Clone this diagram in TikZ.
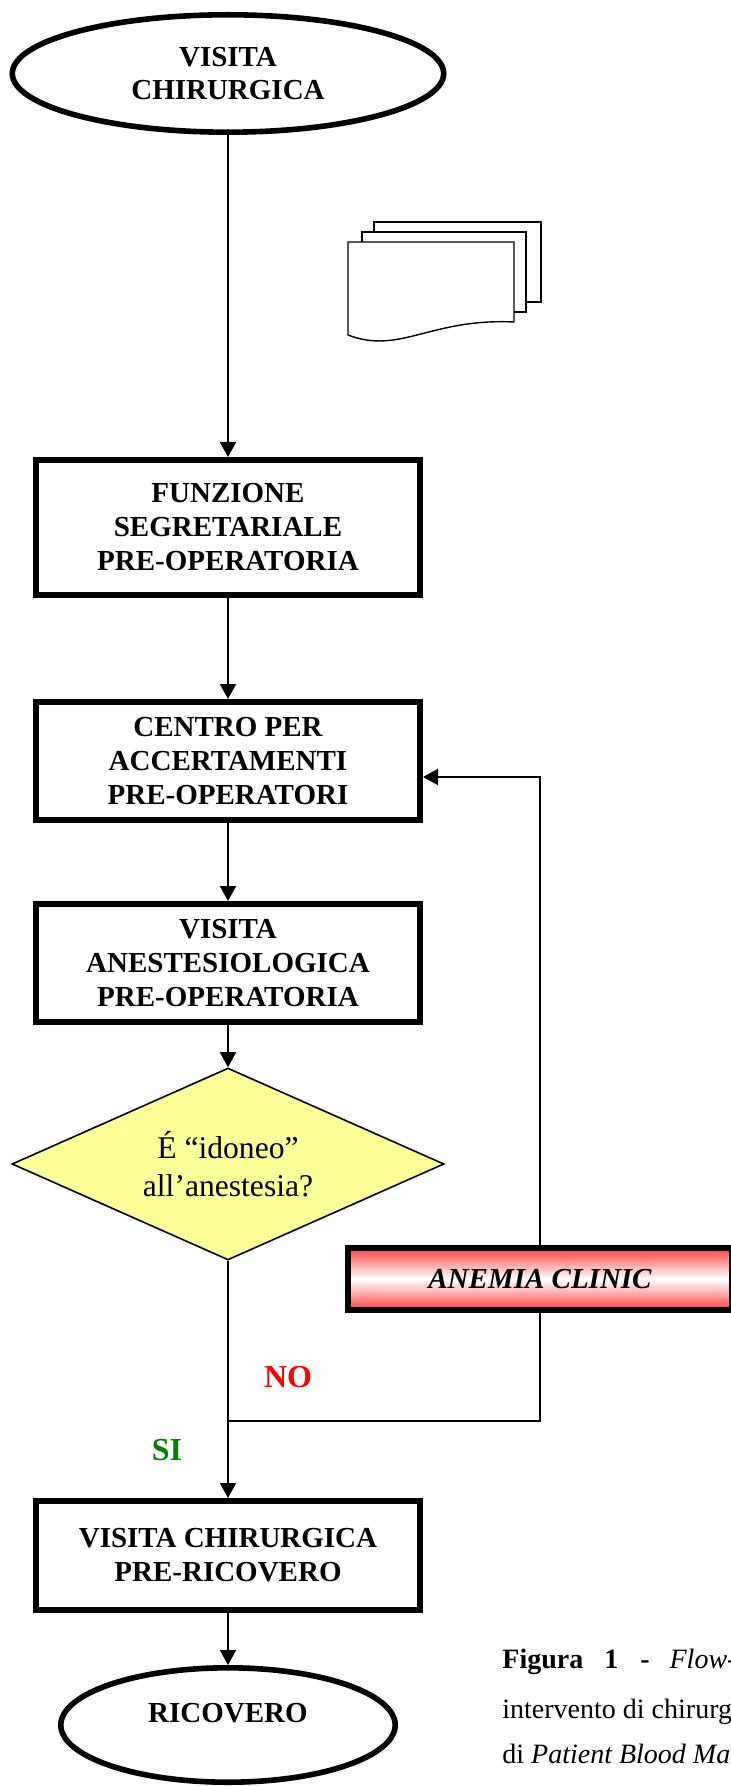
\documentclass[tikz,border=0pt]{standalone}
\usepackage{fontspec}
\setmainfont{Liberation Serif}
\usetikzlibrary{shapes.geometric,arrows.meta}
\definecolor{idoneoyellow}{RGB}{255,255,153}
\definecolor{sigreen}{RGB}{0,128,0}
\definecolor{clinicred}{RGB}{255,64,64}

\begin{document}
\begin{tikzpicture}[x=0.5pt,y=0.5pt,yscale=-1,
    oval/.style={draw,ellipse,line width=2.8pt,inner sep=0pt,align=center,font=\fontsize{14.5}{16.5}\selectfont\bfseries},
    box/.style={draw,rectangle,line width=2.8pt,minimum width=192.2pt,inner sep=0pt,align=center,font=\fontsize{14.5}{17}\selectfont\bfseries},
    link/.style={line width=1pt},
    arr/.style={link,-{Triangle[length=7.5pt,width=8pt]}},
    sheet/.style={draw,fill=white,line width=0.7pt},
    captext/.style={anchor=base west,inner sep=0pt,font=\fontsize{14}{17}\selectfont}]
\useasboundingbox (0,0) rectangle (731,1786);
\clip (0,0) rectangle (731,1786);
\node[oval,minimum width=215.7pt,minimum height=58.7pt] (visita) at (228,73.5) {VISITA\\CHIRURGICA};
\draw[sheet] (374,222) rectangle (541,302);
\draw[sheet] (362,232) rectangle (526,312);
\draw[sheet] (348,242) -- (514,242) -- (514,322) .. controls (430,318) and (400,355) .. (348,335) -- cycle;
\node[box,minimum height=67.7pt] (funzione) at (228,527.5) {FUNZIONE\\SEGRETARIALE\\PRE-OPERATORIA};
\node[box,minimum height=59.2pt] (centro) at (228,761) {CENTRO PER\\ACCERTAMENTI\\PRE-OPERATORI};
\node[box,minimum height=59.2pt] (anest) at (228,963) {VISITA\\ANESTESIOLOGICA\\PRE-OPERATORIA};
\node[diamond,draw,fill=idoneoyellow,line width=0.8pt,aspect=2.25,minimum width=216pt,minimum height=96pt,inner sep=0pt,align=center,font=\fontsize{15.8}{19}\selectfont] (idoneo) at (228,1164) {É “idoneo”\\all’anestesia?};
\node[box,minimum height=31.2pt,top color=clinicred,bottom color=clinicred,middle color=white,font=\fontsize{14.5}{17}\selectfont\bfseries\itshape] (clinic) at (540,1279) {ANEMIA CLINIC};
\node[box,minimum height=54.7pt] (precovero) at (228,1555.5) {VISITA CHIRURGICA\\PRE-RICOVERO};
\node[oval,minimum width=167.2pt,minimum height=57.2pt,text height=9.5pt,text depth=12.5pt] (ricovero) at (228,1725) {RICOVERO};
\node[text=red,font=\fontsize{16}{19}\selectfont\bfseries,inner sep=0pt] (no) at (288,1377) {NO};
\node[text=sigreen,font=\fontsize{16}{19}\selectfont\bfseries,inner sep=0pt] (si) at (167,1450) {SI};
\node[captext] (cap1) at (502,1668) {\textbf{Figura}\hspace{10.5pt}\textbf{1}\hspace{11pt}\textbf{-}\hspace{10pt}\textit{Flow-}};
\node[captext] (cap2) at (502,1718) {intervento di chirurg};
\node[captext] (cap3) at (502,1763) {di \textit{Patient Blood Ma}};
\coordinate (nojoin) at (228,1421);
\coordinate (backturn) at (540,777);
\draw[arr] (visita) -- (funzione);
\draw[arr] (funzione) -- (centro);
\draw[arr] (centro) -- (anest);
\draw[arr] (anest) -- (idoneo);
\draw[arr] (idoneo) -- (precovero);
\draw[arr] (precovero) -- (ricovero);
\draw[link] (nojoin) -| (clinic.south);
\draw[arr] (clinic.north) -- (backturn) -- (centro.east |- backturn);
\end{tikzpicture}
\end{document}
